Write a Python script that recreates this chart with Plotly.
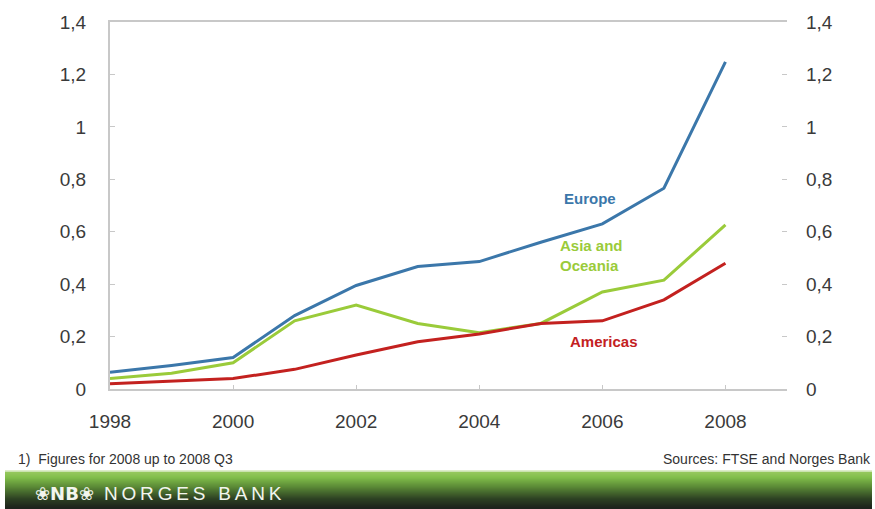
import plotly.graph_objects as go

years = [1998, 1999, 2000, 2001, 2002, 2003, 2004, 2005, 2006, 2007, 2008]
europe = [0.064, 0.09, 0.12, 0.28, 0.395, 0.467, 0.486, 0.56, 0.63, 0.766, 1.248]
asia = [0.04, 0.06, 0.10, 0.26, 0.32, 0.25, 0.215, 0.25, 0.37, 0.415, 0.626]
americas = [0.02, 0.03, 0.04, 0.075, 0.13, 0.18, 0.21, 0.25, 0.26, 0.34, 0.48]
y_ticks = [0, 0.2, 0.4, 0.6, 0.8, 1.0, 1.2, 1.4]
x_ticks = [1998, 2000, 2002, 2004, 2006, 2008]

W, H = 875, 509
L, R, T, B = 110, 787, 20, 389

def py(p):
    return (B - p) / (B - T)

def px(p):
    return (p - L) / (R - L)

c_eu, c_as, c_am = "#3b77aa", "#9acb3a", "#c3211f"

fig = go.Figure()
fig.add_trace(go.Scatter(x=years, y=europe, mode="lines", line=dict(color=c_eu, width=3), name="Europe"))
fig.add_trace(go.Scatter(x=years, y=asia, mode="lines", line=dict(color=c_as, width=3), name="Asia and Oceania"))
fig.add_trace(go.Scatter(x=years, y=americas, mode="lines", line=dict(color=c_am, width=3), name="Americas"))
fig.add_trace(go.Scatter(x=years, y=europe, mode="lines", line=dict(width=0), yaxis="y2",
                         showlegend=False, hoverinfo="skip", opacity=0))

tickfont = dict(family="Liberation Sans, Arial", size=19, color="#3a3a3a")
axcol = "#c8c8c8"
fig.update_layout(
    width=W, height=H,
    margin=dict(l=L, r=W - R, t=T, b=H - B),
    paper_bgcolor="white", plot_bgcolor="white",
    separators=", ",
    showlegend=False,
    xaxis=dict(range=[1998, 2009], tickvals=x_ticks, ticks="inside", ticklen=4,
               tickcolor=axcol, showgrid=False, zeroline=False, showline=True,
               linecolor=axcol, linewidth=2, mirror=True, tickfont=tickfont,
               ticklabelstandoff=14),
    yaxis=dict(range=[0, 1.4], tickvals=y_ticks, ticks="inside", ticklen=5,
               tickcolor=axcol, showgrid=False, zeroline=False, showline=True,
               linecolor=axcol, linewidth=2, tickfont=tickfont, ticklabelstandoff=18),
    yaxis2=dict(range=[0, 1.4], tickvals=y_ticks, ticks="inside", ticklen=5,
                tickcolor=axcol, showgrid=False, zeroline=False, showline=False,
                overlaying="y", side="right", tickfont=tickfont, ticklabelstandoff=18),
)

lab = dict(family="Liberation Sans, Arial", size=15, weight="bold")
fig.add_annotation(x=2005.8, y=0.725, text="Europe", showarrow=False, xref="x", yref="y",
                   font=dict(color=c_eu, **lab))
fig.add_annotation(x=2005.82, y=0.508, text="Asia and<br>Oceania", showarrow=False, xref="x", yref="y",
                   font=dict(color=c_as, **lab), align="left")
fig.add_annotation(x=2006.03, y=0.18, text="Americas", showarrow=False, xref="x", yref="y",
                   font=dict(color=c_am, **lab))

small = dict(family="Liberation Sans, Arial", size=14, color="#333333")
fig.add_annotation(x=px(16), y=py(459), xref="paper", yref="paper", text="1)  Figures for 2008 up to 2008 Q3",
                   showarrow=False, xanchor="left", yanchor="middle", font=small)
fig.add_annotation(x=px(873), y=py(459), xref="paper", yref="paper", text="Sources: FTSE and Norges Bank",
                   showarrow=False, xanchor="right", yanchor="middle", font=small)

# green banner gradient
top, bot = 472, 509
stops = [(0.0, (150, 200, 95)), (0.15, (130, 190, 75)), (0.45, (85, 130, 52)), (0.75, (45, 65, 35)), (1.0, (30, 36, 28))]
def col(t):
    for i in range(len(stops) - 1):
        a, ca = stops[i]
        b, cb = stops[i + 1]
        if a <= t <= b:
            f = (t - a) / (b - a)
            return "rgb(%d,%d,%d)" % tuple(round(ca[k] + f * (cb[k] - ca[k])) for k in range(3))
    return "rgb(30,36,28)"
n = 37
for i in range(n):
    y0 = top + (bot - top) * i / n
    y1 = top + (bot - top) * (i + 1) / n + 0.6
    fig.add_shape(type="rect", xref="paper", yref="paper", x0=px(5), x1=px(872), y0=py(y1), y1=py(y0),
                  fillcolor=col(i / (n - 1)), line=dict(width=0), layer="above")
fig.add_shape(type="line", xref="paper", yref="paper", x0=px(5), x1=px(872), y0=py(471), y1=py(471),
              line=dict(color="#dcecc8", width=1))

fig.add_annotation(x=px(33), y=py(494), xref="paper", yref="paper",
                   text="❀<b>NB</b>❀", showarrow=False, xanchor="left", yanchor="middle",
                   font=dict(family="DejaVu Sans, Liberation Sans", size=18, color="#f2f5ee"))
fig.add_annotation(x=px(102), y=py(494), xref="paper", yref="paper",
                   text="\u2009".join("NORGES") + "\u2009 \u2009" + "\u2009".join("BANK"),
                   showarrow=False, xanchor="left", yanchor="middle",
                   font=dict(family="Liberation Sans, Arial", size=19, color="#f2f5ee"))

fig.write_html("out.html", config={"displayModeBar": False},
               post_script="document.body.style.margin='0';document.body.style.overflow='hidden';")
